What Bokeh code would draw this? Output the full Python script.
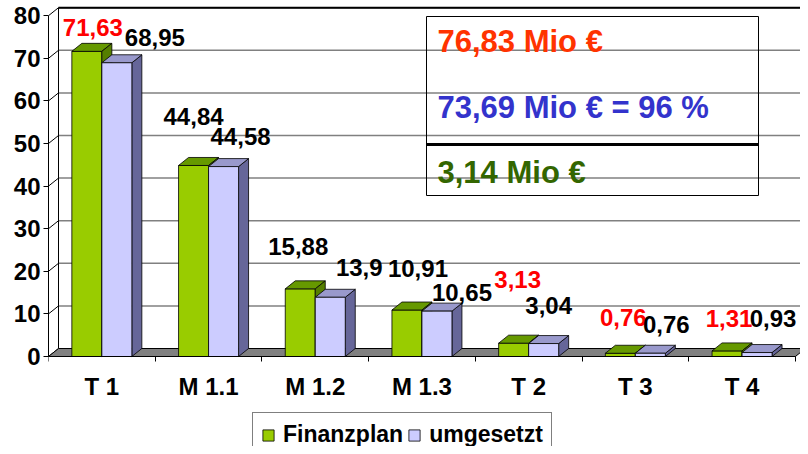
from bokeh.plotting import figure
from bokeh.models import ColumnDataSource, FixedTicker, Legend, LegendItem, Label, BoxAnnotation
from bokeh.core.properties import value
from bokeh.embed import file_html
from bokeh.resources import INLINE

# ---------------- data ----------------
categories = ["T 1", "M 1.1", "M 1.2", "M 1.3", "T 2", "T 3", "T 4"]
finanzplan = [71.63, 44.84, 15.88, 10.91, 3.13, 0.76, 1.31]
umgesetzt = [68.95, 44.58, 13.9, 10.65, 3.04, 0.76, 0.93]
finanzplan_labels = ["71,63", "44,84", "15,88", "10,91", "3,13", "0,76", "1,31"]
umgesetzt_labels = ["68,95", "44,58", "13,9", "10,65", "3,04", "0,76", "0,93"]
finanzplan_label_colors = ["#FF0000", "black", "black", "black", "#FF0000", "#FF0000", "#FF0000"]
y_ticks = [0, 10, 20, 30, 40, 50, 60, 70, 80]
series_names = ["Finanzplan", "umgesetzt"]
summary_texts = ["76,83 Mio €", "73,69 Mio € = 96 %", "3,14 Mio €"]
summary_colors = ["#FF3300", "#3333CC", "#336600"]

# ---------------- layout / style ----------------
W, H = 800, 446
FL = 48                              # frame left border (px)
FW = W - FL
ORIGIN_Y = 356                       # page px of value 0 (front)
XU = 106.7                           # px per category
YU = 4.26                            # px per value unit
X_END = FW / XU
Y_START = -(H - ORIGIN_Y) / YU
Y_END = ORIGIN_Y / YU
DX = 10 / XU                         # 3D depth offset in data units
DY = 8 / YU
BW = 30 / XU                         # bar front width
FONT = "Liberation Sans"

GREEN, GREEN_TOP, GREEN_SIDE = "#99CC00", "#669900", "#557F00"
PURP, PURP_TOP, PURP_SIDE = "#CCCCFF", "#9999CC", "#666699"

# label offsets in screen px (relative to bar front-top centre)
g_xoff = [6, 0, -2, 11, 4, 3, 2]
g_yoff = [-24, -49, -42, -42, -64, -36, -32]
u_xoff = [38, 17, 29, 25, 5, 16, 16]
u_yoff = [-25, -30, -30, -19, -38, -29, -34]

def px2x(px):
    return (px - FL) / XU

def px2y(py):
    return (ORIGIN_Y - py) / YU

p = figure(width=W, height=H, x_range=(0, X_END), y_range=(Y_START, Y_END),
           output_backend="svg", toolbar_location=None,
           min_border_left=FL, min_border_right=0, min_border_top=0, min_border_bottom=0)
p.outline_line_color = None
p.xgrid.visible = False
p.ygrid.visible = False
p.background_fill_color = "white"

# ---------------- walls ----------------
grid_vals = [v for v in y_ticks if v > 0]
p.segment(x0=[DX] * len(grid_vals), y0=[v + DY for v in grid_vals],
          x1=[X_END] * len(grid_vals), y1=[v + DY for v in grid_vals],
          line_color="#808080", line_width=1.5)
top = max(y_ticks)
p.segment(x0=[DX], y0=[top + DY], x1=[X_END], y1=[top + DY], line_color="black", line_width=2)
p.segment(x0=[DX], y0=[DY], x1=[DX], y1=[top + DY], line_color="black", line_width=1)
p.segment(x0=[0] * len(y_ticks), y0=y_ticks, x1=[DX] * len(y_ticks),
          y1=[v + DY for v in y_ticks], line_color="black", line_width=1)
n = len(categories)
p.patch(x=[0, n, n + DX, DX], y=[0, 0, DY, DY], fill_color="#808080", line_color="black", line_width=1)

# ---------------- bars ----------------
centers = [i + 0.5 for i in range(n)]
g_x0 = [c - BW for c in centers]
g_x1 = centers
u_x0 = centers
u_x1 = [c + BW for c in centers]

def top_face(x0, x1, v):
    return [x0, x1, x1 + DX, x0 + DX], [v, v, v + DY, v + DY]

def side_face(x1, v):
    return [x1, x1 + DX, x1 + DX, x1], [0, DY, v + DY, v]

lw = 0.8
g_front = p.quad(left=g_x0, right=g_x1, bottom=[0] * n, top=finanzplan,
                 fill_color=GREEN, line_color="black", line_width=lw)
gt = [top_face(a, b, v) for a, b, v in zip(g_x0, g_x1, finanzplan)]
p.patches(xs=[t[0] for t in gt], ys=[t[1] for t in gt], fill_color=GREEN_TOP, line_color="black", line_width=lw)
gs = [side_face(b, v) for b, v in zip(g_x1, finanzplan)]
p.patches(xs=[t[0] for t in gs], ys=[t[1] for t in gs], fill_color=GREEN_SIDE, line_color="black", line_width=lw)

us = [side_face(b, v) for b, v in zip(u_x1, umgesetzt)]
p.patches(xs=[t[0] for t in us], ys=[t[1] for t in us], fill_color=PURP_SIDE, line_color="black", line_width=lw)
ut = [top_face(a, b, v) for a, b, v in zip(u_x0, u_x1, umgesetzt)]
p.patches(xs=[t[0] for t in ut], ys=[t[1] for t in ut], fill_color=PURP_TOP, line_color="black", line_width=lw)
u_front = p.quad(left=u_x0, right=u_x1, bottom=[0] * n, top=umgesetzt,
                 fill_color=PURP, line_color="black", line_width=lw)

# ---------------- data labels ----------------
lab_src = ColumnDataSource(dict(
    x=[c - BW / 2 for c in centers] + [c + BW / 2 for c in centers],
    y=finanzplan + umgesetzt,
    text=finanzplan_labels + umgesetzt_labels,
    color=finanzplan_label_colors + ["black"] * n,
    xo=g_xoff + u_xoff,
    yo=g_yoff + u_yoff,
))
p.text(x="x", y="y", text="text", source=lab_src, x_offset="xo", y_offset="yo",
       text_color="color", text_font=value(FONT), text_font_style="bold",
       text_font_size="24px", text_align="center", text_baseline="middle")

# ---------------- axes ----------------
ya = p.yaxis[0]
ya.ticker = FixedTicker(ticks=y_ticks, minor_ticks=[])
ya.bounds = (0, top)
ya.axis_line_color = "black"
ya.major_tick_out = 5
ya.major_tick_in = 0
ya.minor_tick_line_color = None
ya.major_label_standoff = 3
ya.major_label_text_font = FONT
ya.major_label_text_font_style = "bold"
ya.major_label_text_font_size = "24px"
ya.major_label_text_color = "black"

xa = p.xaxis[0]
xa.fixed_location = 0
xa.ticker = FixedTicker(ticks=centers, minor_ticks=list(range(n + 1)))
xa.major_label_overrides = {c: lab for c, lab in zip(centers, categories)}
xa.bounds = (0, n)
xa.axis_line_color = "black"
xa.major_tick_line_color = None
xa.major_tick_out = 0
xa.major_tick_in = 0
xa.minor_tick_out = 5
xa.minor_tick_in = 0
xa.minor_tick_line_color = "black"
xa.major_label_standoff = 11
xa.major_label_text_font = FONT
xa.major_label_text_font_style = "bold"
xa.major_label_text_font_size = "24px"
xa.major_label_text_color = "black"

# ---------------- summary box ----------------
box = BoxAnnotation(left=px2x(426), right=px2x(758), top=px2y(16), bottom=px2y(195),
                    fill_color=None, fill_alpha=0, line_color="black", line_alpha=1, line_width=1)
p.add_layout(box)
p.segment(x0=[px2x(426)], y0=[px2y(144)], x1=[px2x(758)], y1=[px2y(144)], line_color="black", line_width=3)
for txt, col, ypx in zip(summary_texts, summary_colors, [41, 107, 172]):
    p.add_layout(Label(x=px2x(437), y=px2y(ypx), text=txt, text_color=col,
                       text_font=FONT, text_font_style="bold", text_font_size="31px",
                       text_align="left", text_baseline="middle"))

# ---------------- legend ----------------
legend = Legend(items=[LegendItem(label=series_names[0], renderers=[g_front]),
                       LegendItem(label=series_names[1], renderers=[u_front])],
                orientation="horizontal", location=(252 - FL, -11),
                glyph_width=14, glyph_height=14, label_standoff=8, spacing=4,
                padding=8, margin=0, border_line_color="black", border_line_width=1,
                background_fill_color="white", background_fill_alpha=1,
                label_text_font=FONT, label_text_font_style="bold",
                label_text_font_size="23px", label_text_color="black")
p.add_layout(legend)

open("out.html", "w").write(file_html(p, INLINE))
